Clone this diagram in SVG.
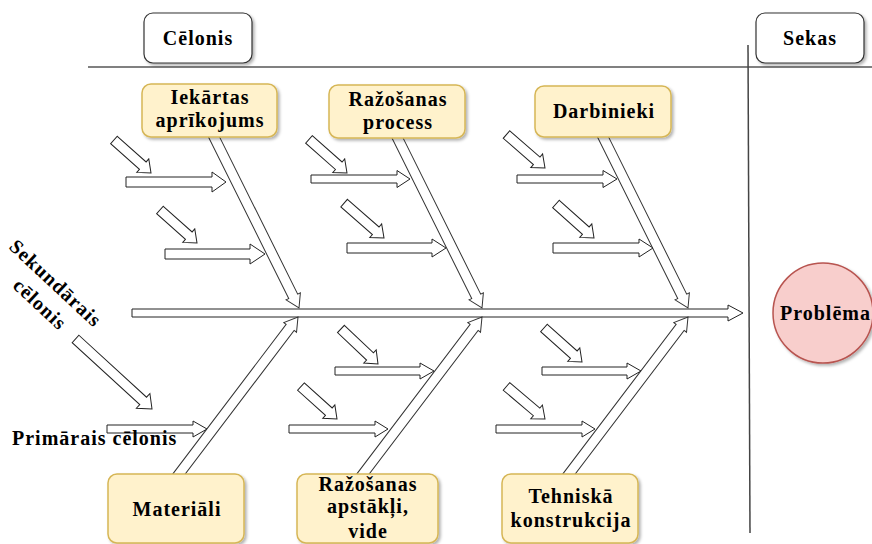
<svg xmlns="http://www.w3.org/2000/svg" width="872" height="544" viewBox="0 0 872 544">
  <style>
    text { font-family: "Liberation Serif", "Times New Roman", serif; font-weight: 700; font-size: 20px; letter-spacing: 1px; fill: #000; }
    .mid { text-anchor: middle; }
    .cat { fill: #FFF2CC; stroke: #D6B656; stroke-width: 1.5; }
    .hdr { fill: #FFFFFF; stroke: #333333; stroke-width: 1.2; }
    .arr { fill: #FFFFFF; stroke: #222222; stroke-width: 1; stroke-linejoin: miter; }
    .bone { fill: #FFFFFF; stroke: #333333; stroke-width: 1; }
  </style>
  <defs>
    <filter id="shadow" x="-10%" y="-10%" width="130%" height="140%">
      <feDropShadow dx="2" dy="2" stdDeviation="1.5" flood-color="#000" flood-opacity="0.3"/>
    </filter>
  </defs>

  <rect width="872" height="544" fill="#FFFFFF"/>

  <!-- header divider and cause/effect separator -->
  <line x1="88" y1="67" x2="872" y2="67" stroke="#808080" stroke-width="2"/>
  <line x1="748" y1="45" x2="750" y2="533" stroke="#444444" stroke-width="1.5"/>

  <g id="connectors">
    <!-- spine -->
    <polygon class="arr" transform="translate(743 313)" points="-611,-4 -15,-4 -15,-8 0,0 -15,8 -15,4 -611,4"/>

    <!-- upper bones -->
    <polygon class="bone" transform="translate(299 308) rotate(63.57)" points="-197,-5 -13,-5 -13,-8 0,0 -13,8 -13,5 -197,5"/>
    <polygon class="bone" transform="translate(482 308) rotate(63.57)" points="-197,-5 -13,-5 -13,-8 0,0 -13,8 -13,5 -197,5"/>
    <polygon class="bone" transform="translate(688 308) rotate(63.57)" points="-197,-5 -13,-5 -13,-8 0,0 -13,8 -13,5 -197,5"/>

    <!-- lower bones -->
    <polygon class="bone" transform="translate(298 317) rotate(-52.84)" points="-205,-5 -13,-5 -13,-8 0,0 -13,8 -13,5 -205,5"/>
    <polygon class="bone" transform="translate(482 317) rotate(-52.84)" points="-205,-5 -13,-5 -13,-8 0,0 -13,8 -13,5 -205,5"/>
    <polygon class="bone" transform="translate(688 317) rotate(-52.84)" points="-205,-5 -13,-5 -13,-8 0,0 -13,8 -13,5 -205,5"/>

    <!-- horizontal cause arrows -->
    <polygon class="arr" transform="translate(226 182)" points="-100,-5 -14,-5 -14,-10 0,0 -14,10 -14,5 -100,5"/>
    <polygon class="arr" transform="translate(410 179)" points="-99,-4 -13,-4 -13,-8.5 0,0 -13,8.5 -13,4 -99,4"/>
    <polygon class="arr" transform="translate(617 179)" points="-100,-4 -14,-4 -14,-8.5 0,0 -14,8.5 -14,4 -100,4"/>
    <polygon class="arr" transform="translate(265 254)" points="-100,-5 -15,-5 -15,-10 0,0 -15,10 -15,5 -100,5"/>
    <polygon class="arr" transform="translate(446 248)" points="-99,-5 -14,-5 -14,-9 0,0 -14,9 -14,5 -99,5"/>
    <polygon class="arr" transform="translate(653 248)" points="-100,-5 -14,-5 -14,-9 0,0 -14,9 -14,5 -100,5"/>
    <polygon class="arr" transform="translate(434 371)" points="-99,-4 -14,-4 -14,-8 0,0 -14,8 -14,4 -99,4"/>
    <polygon class="arr" transform="translate(641 371)" points="-99,-4 -14,-4 -14,-8 0,0 -14,8 -14,4 -99,4"/>
    <polygon class="arr" transform="translate(207 429)" points="-100,-4 -14,-4 -14,-8 0,0 -14,8 -14,4 -100,4"/>
    <polygon class="arr" transform="translate(388 429)" points="-99,-4 -13,-4 -13,-8 0,0 -13,8 -13,4 -99,4"/>
    <polygon class="arr" transform="translate(595 429)" points="-99,-4 -13,-4 -13,-8 0,0 -13,8 -13,4 -99,4"/>

    <!-- diagonal sub-cause arrows -->
    <polygon class="arr" transform="translate(151 173) rotate(41.7)" points="-49.6,-5 -11,-5 -11,-9 0,0 -11,9 -11,5 -49.6,5"/>
    <polygon class="arr" transform="translate(347 173) rotate(41.4)" points="-50.7,-5 -11,-5 -11,-9 0,0 -11,9 -11,5 -50.7,5"/>
    <polygon class="arr" transform="translate(545 168) rotate(41)" points="-51,-5 -11,-5 -11,-9 0,0 -11,9 -11,5 -51,5"/>
    <polygon class="arr" transform="translate(197 243) rotate(41.7)" points="-49.6,-5 -11,-5 -11,-9 0,0 -11,9 -11,5 -49.6,5"/>
    <polygon class="arr" transform="translate(384 238) rotate(41.2)" points="-53,-5 -11,-5 -11,-9 0,0 -11,9 -11,5 -53,5"/>
    <polygon class="arr" transform="translate(594 238) rotate(41.8)" points="-51,-5 -11,-5 -11,-9 0,0 -11,9 -11,5 -51,5"/>
    <polygon class="arr" transform="translate(378 364) rotate(43.4)" points="-51,-5 -11,-5 -11,-9 0,0 -11,9 -11,5 -51,5"/>
    <polygon class="arr" transform="translate(582 362) rotate(41.8)" points="-51,-5 -11,-5 -11,-9 0,0 -11,9 -11,5 -51,5"/>
    <polygon class="arr" transform="translate(337 419) rotate(42)" points="-48.5,-5 -11,-5 -11,-9 0,0 -11,9 -11,5 -48.5,5"/>
    <polygon class="arr" transform="translate(545 419) rotate(40.2)" points="-50.4,-5 -11,-5 -11,-9 0,0 -11,9 -11,5 -50.4,5"/>
    <polygon class="arr" transform="translate(152 409) rotate(42.5)" points="-103.7,-5 -12,-5 -12,-10 0,0 -12,10 -12,5 -103.7,5"/>
  </g>

  <!-- column headers -->
  <g id="celonis">
    <rect class="hdr" x="144" y="13" width="108" height="50" rx="9" filter="url(#shadow)"/>
    <text class="mid" x="198" y="45">Cēlonis</text>
  </g>
  <g id="sekas">
    <rect class="hdr" x="756" y="13" width="108" height="50" rx="9" filter="url(#shadow)"/>
    <text class="mid" x="810" y="45">Sekas</text>
  </g>

  <!-- upper categories -->
  <g id="iekartas">
    <rect class="cat" x="142" y="84" width="135" height="53" rx="9" filter="url(#shadow)"/>
    <text class="mid" x="210" y="104">Iekārtas</text>
    <text class="mid" x="210" y="127">aprīkojums</text>
  </g>
  <g id="razosanas-process">
    <rect class="cat" x="329" y="85" width="136" height="53" rx="9" filter="url(#shadow)"/>
    <text class="mid" x="398" y="106">Ražošanas</text>
    <text class="mid" x="398" y="129">process</text>
  </g>
  <g id="darbinieki">
    <rect class="cat" x="535" y="86" width="136" height="51" rx="9" filter="url(#shadow)"/>
    <text class="mid" x="604" y="118">Darbinieki</text>
  </g>

  <!-- lower categories -->
  <g id="materiali">
    <rect class="cat" x="108" y="474" width="136" height="69" rx="9" filter="url(#shadow)"/>
    <text class="mid" x="177" y="516">Materiāli</text>
  </g>
  <g id="razosanas-apstakli">
    <rect class="cat" x="297" y="474" width="141" height="69" rx="9" filter="url(#shadow)"/>
    <text class="mid" x="368" y="491">Ražošanas</text>
    <text class="mid" x="368" y="513">apstākļi,</text>
    <text class="mid" x="368" y="538">vide</text>
  </g>
  <g id="tehniska-konstrukcija">
    <rect class="cat" x="502" y="474" width="136" height="69" rx="9" filter="url(#shadow)"/>
    <text class="mid" x="571" y="503">Tehniskā</text>
    <text class="mid" x="571" y="527">konstrukcija</text>
  </g>

  <!-- effect -->
  <g id="problema">
    <ellipse cx="823" cy="313" rx="50" ry="50" fill="#F8CECC" stroke="#B85450" stroke-width="1.5" filter="url(#shadow)"/>
    <text x="780" y="320">Problēma</text>
  </g>

  <!-- legend labels -->
  <g id="sekundarais">
    <text class="mid" transform="translate(58 285) rotate(43)">
      <tspan x="0" y="7">Sekundārais</tspan>
      <tspan x="0" y="33">cēlonis</tspan>
    </text>
  </g>
  <g id="primarais">
    <text x="12" y="445">Primārais cēlonis</text>
  </g>
</svg>
